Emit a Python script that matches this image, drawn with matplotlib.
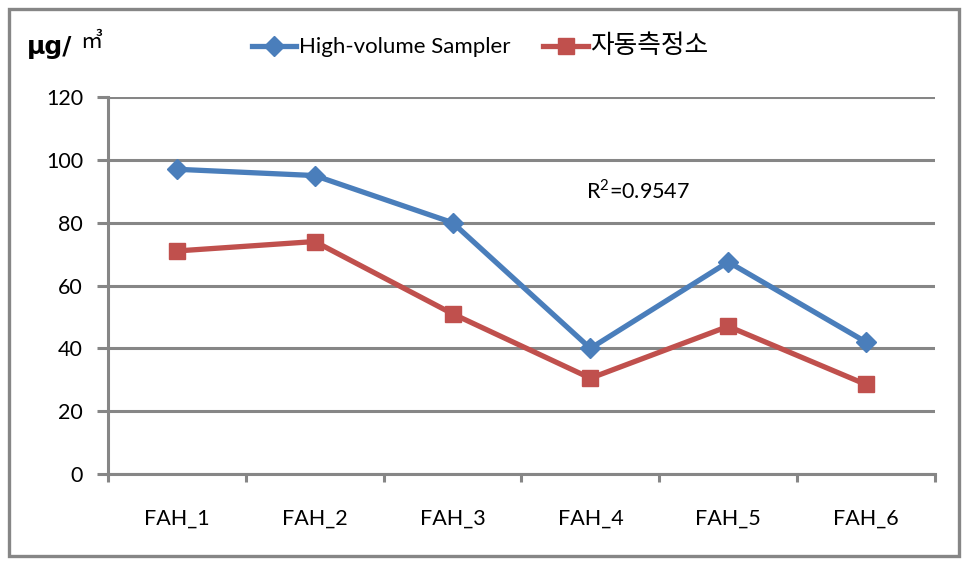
import numpy as np
import matplotlib
matplotlib.use("Agg")
import matplotlib.pyplot as plt
from matplotlib.patches import Rectangle

plt.rcParams['font.family'] = ['Lato', 'Noto Sans CJK KR', 'DejaVu Sans']
plt.rcParams['mathtext.fontset'] = 'custom'
plt.rcParams['mathtext.rm'] = 'Lato'

sites = ["FAH_1", "FAH_2", "FAH_3", "FAH_4", "FAH_5", "FAH_6"]
high_volume = [97, 95, 80, 40, 67.5, 42]
auto_station = [71, 74, 51, 30.5, 47, 28.5]
y_ticks = [0, 20, 40, 60, 80, 100, 120]

BLUE = "#4a7ebb"
RED = "#c0504d"
GRAY = "#868686"


def main():
    fig = plt.figure(figsize=(9.66, 5.66), dpi=100)
    ax = fig.add_axes([0.1118, 0.1625, 0.8561, 0.6661])

    x = np.arange(len(sites))
    ax.plot(x, high_volume, color=BLUE, lw=3.8, marker='D', ms=10,
            label="High-volume Sampler", zorder=3)
    ax.plot(x, auto_station, color=RED, lw=3.8, marker='s', ms=12,
            label="자동측정소", zorder=3)

    ax.set_xlim(-0.5, len(sites) - 0.5)
    ax.set_ylim(0, 120)
    ax.set_yticks(y_ticks)
    ax.set_xticks(x)
    ax.set_xticklabels(sites)
    ax.set_xticks(np.arange(len(sites) + 1) - 0.5, minor=True)
    ax.tick_params(axis='x', which='major', length=0, pad=25, labelsize=15.5)
    ax.tick_params(axis='x', which='minor', length=6, width=2.2, color=GRAY)
    ax.tick_params(axis='y', length=8, width=2.2, color=GRAY, pad=10, labelsize=15.5)

    ax.grid(axis='y', color=GRAY, lw=2.2)
    ax.set_axisbelow(True)
    for s in ['top', 'right']:
        ax.spines[s].set_visible(False)
    ax.spines['left'].set_color(GRAY)
    ax.spines['left'].set_linewidth(2.2)
    ax.spines['bottom'].set_color(GRAY)
    ax.spines['bottom'].set_linewidth(2.2)

    fig.text(0.607, 0.664, r"R$^{2}$=0.9547", fontsize=15.5, ha='left', va='center')

    # unit label
    fig.text(0.028, 0.917, "μg/", fontsize=18, fontweight='bold',
             ha='left', va='center', family=['DejaVu Sans'])
    fig.text(0.083, 0.926, "㎥", fontsize=16, ha='left', va='center',
             family=['Noto Sans CJK KR'])

    leg = fig.legend(loc='center', bbox_to_anchor=(0.497, 0.918), ncol=2,
                     frameon=False, handlelength=2.0, handletextpad=0.1,
                     columnspacing=1.5, fontsize=16)
    leg.get_texts()[1].set_fontsize(18.5)
    leg.get_texts()[1].set_family(['Noto Sans CJK KR'])

    fig.patches.append(Rectangle((0.009, 0.018), 0.984, 0.966, transform=fig.transFigure,
                                 fill=False, edgecolor=GRAY, lw=2.4))

    plt.savefig('out.png', format='png')


if __name__ == "__main__":
    main()
